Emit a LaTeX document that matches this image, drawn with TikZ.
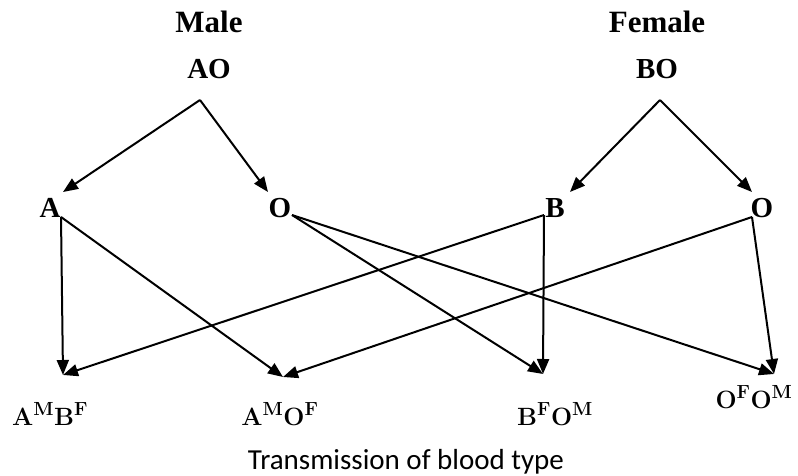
\RequirePackage{fix-cm}
\documentclass[tikz,border=0pt]{standalone}
\usepackage[no-math]{fontspec}
\setmainfont{Liberation Serif}
\newfontfamily\capfont{Carlito}
\DeclareMathSizes{25}{25}{19}{15}
\newcommand\gl[4]{$\mathbf{#1}^{\mathbf{#2}}\mathbf{#3}^{\mathbf{#4}}$}
\usetikzlibrary{arrows.meta,calc}
\begin{document}
\begin{tikzpicture}[x=1pt,y=-1pt,
  lbl/.style={inner sep=0pt,anchor=base,font=\fontsize{29}{31}\selectfont\bfseries},
  ttl/.style={inner sep=0pt,anchor=base,font=\fontsize{31}{33}\selectfont\bfseries},
  geno/.style={inner sep=0pt,anchor=base,font=\fontsize{25}{27}\selectfont},
  arr/.style={line width=2pt,-{Triangle[length=15pt,width=12pt]}}]
\path[use as bounding box,fill=white] (0,0) rectangle (798,476);
% titles
\node[ttl] (male) at (209,33) {Male};
\node[ttl] (female) at (657,33) {Female};
\node[lbl] (AO) at (209,79) {AO};
\node[lbl] (BO) at (657,79) {BO};
% gametes
\node[lbl] (A) at (50,217) {A};
\node[lbl] (O1) at (280,217) {O};
\node[lbl] (B) at (555,217) {B};
\node[lbl] (O2) at (762,217) {O};
% offspring
\node[geno] (AMBF) at (50,425) {\gl{A}{M}{B}{F}};
\node[geno] (AMOF) at (280,425) {\gl{A}{M}{O}{F}};
\node[geno] (BFOM) at (555,425) {\gl{B}{F}{O}{M}};
\node[geno] (OFOM) at (754,408) {\gl{O}{F}{O}{M}};
\node[inner sep=0pt,anchor=base,font=\capfont\fontsize{29}{31}\selectfont] (cap) at (406,469) {Transmission of blood type};
% parent to gametes
\draw[arr] ($(AO.base)+(-9,21)$) -- ($(A.base)+(13,-25)$);
\draw[arr] ($(AO.base)+(-9,21)$) -- ($(O1.base)+(-12,-25)$);
\draw[arr] ($(BO.base)+(3,21)$) -- ($(B.base)+(15,-25)$);
\draw[arr] ($(BO.base)+(3,21)$) -- ($(O2.base)+(-10,-25)$);
% gametes to offspring
\draw[arr] ($(A.base)+(11,0)$) -- ($(AMBF.base)+(13,-50)$);
\draw[arr] ($(A.base)+(11,0)$) -- ($(AMOF.base)+(3,-48)$);
\draw[arr] ($(O1.base)+(12,-2)$) -- ($(BFOM.base)+(-12,-51)$);
\draw[arr] ($(O1.base)+(12,-2)$) -- ($(OFOM.base)+(20,-34)$);
\draw[arr] ($(B.base)+(-11,-2)$) -- ($(AMBF.base)+(13,-50)$);
\draw[arr] ($(B.base)+(-11,-2)$) -- ($(BFOM.base)+(-12,-51)$);
\draw[arr] ($(O2.base)+(-10,0)$) -- ($(AMOF.base)+(3,-48)$);
\draw[arr] ($(O2.base)+(-10,0)$) -- ($(OFOM.base)+(20,-34)$);
\end{tikzpicture}
\end{document}
